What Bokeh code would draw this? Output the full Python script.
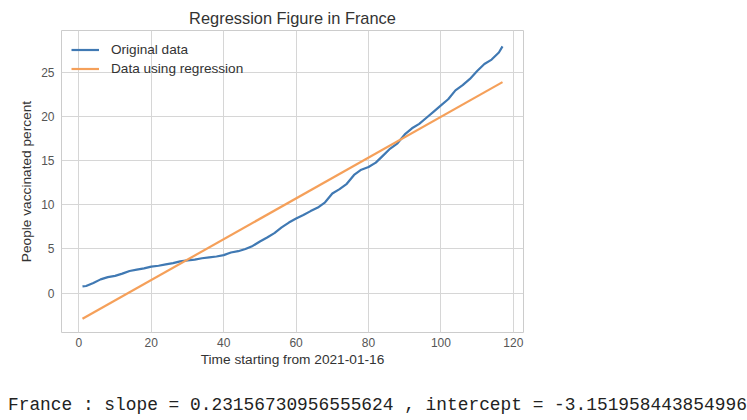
from bokeh.plotting import figure
from bokeh.models import FixedTicker, Legend, LegendItem, Div
from bokeh.layouts import column
from bokeh.embed import file_html
from bokeh.resources import INLINE

# Original data (days since 2021-01-16, people vaccinated percent)
days = [1, 2, 4, 6, 8, 10, 12, 14, 16, 18, 20, 22, 24, 26, 28, 30, 32, 34, 36, 38,
        40, 42, 44, 46, 48, 50, 52, 54, 56, 58, 60, 62, 64, 66, 68, 70, 72, 74, 76, 78,
        80, 82, 84, 86, 88, 90, 92, 94, 96, 98, 100, 102, 104, 106, 108, 110, 112, 114, 116, 117]
vaccinated = [0.75, 0.8, 1.15, 1.55, 1.8, 1.95, 2.2, 2.5, 2.65, 2.8,
              3.0, 3.1, 3.25, 3.4, 3.6, 3.7, 3.8, 3.95, 4.05, 4.15,
              4.3, 4.6, 4.75, 5.0, 5.35, 5.85, 6.3, 6.8, 7.45, 8.0,
              8.45, 8.85, 9.3, 9.7, 10.3, 11.3, 11.8, 12.4, 13.4, 14.0,
              14.3, 14.8, 15.6, 16.4, 17.0, 18.0, 18.7, 19.2, 19.9, 20.6,
              21.3, 22.0, 23.0, 23.6, 24.3, 25.2, 26.0, 26.5, 27.3, 28.0]

# Regression line end points
reg_days = [1, 117]
reg_values = [-2.92, 23.94]

x_ticks = [0, 20, 40, 60, 80, 100, 120]
y_ticks = [0, 5, 10, 15, 20, 25]

title_text = "Regression Figure in France"
x_label = "Time starting from 2021-01-16"
y_label = "People vaccinated percent"
legend_labels = ["Original data", "Data using regression"]
footer_text = "France : slope = 0.23156730956555624 , intercept = -3.151958443854996"

FONT = "Liberation Sans"

p = figure(width=739, height=372, output_backend="svg", toolbar_location=None,
           x_range=(-4.8, 122.8), y_range=(-4.48, 29.8),
           min_border_left=61, min_border_right=216, min_border_top=30, min_border_bottom=40,
           title=title_text)

p.title.align = "center"
p.title.text_font = FONT
p.title.text_font_size = "16.4px"
p.title.text_font_style = "normal"
p.title.text_color = "#333333"
p.title.standoff = 8

p.background_fill_color = "white"
p.border_fill_color = "white"
p.outline_line_color = "#cccccc"
p.outline_line_width = 1

for ax in (p.xaxis[0], p.yaxis[0]):
    ax.axis_line_color = None
    ax.major_tick_line_color = None
    ax.minor_tick_line_color = None
    ax.major_tick_out = 0
    ax.major_tick_in = 0
    ax.minor_tick_out = 0
    ax.minor_tick_in = 0
    ax.major_label_text_font = FONT
    ax.major_label_text_font_size = "12px"
    ax.major_label_text_color = "#555555"
    ax.axis_label_text_font = FONT
    ax.axis_label_text_font_size = "13.7px"
    ax.axis_label_text_font_style = "normal"
    ax.axis_label_text_color = "#333333"

p.xaxis.ticker = FixedTicker(ticks=x_ticks)
p.yaxis.ticker = FixedTicker(ticks=y_ticks)
p.xaxis.axis_label = x_label
p.yaxis.axis_label = y_label
p.xaxis.major_label_standoff = 5
p.yaxis.major_label_standoff = 7
p.xaxis.axis_label_standoff = 2
p.yaxis.axis_label_standoff = 4

p.xgrid.grid_line_color = "#d6d6d6"
p.ygrid.grid_line_color = "#d6d6d6"
p.xgrid.ticker = FixedTicker(ticks=x_ticks)
p.ygrid.ticker = FixedTicker(ticks=y_ticks)

r1 = p.line(days, vaccinated, line_color="#4079b3", line_width=2.2)
r2 = p.line(reg_days, reg_values, line_color="#f5a05a", line_width=2.2)

legend = Legend(items=[LegendItem(label=legend_labels[0], renderers=[r1]),
                       LegendItem(label=legend_labels[1], renderers=[r2])],
                location="top_left")
legend.border_line_color = None
legend.background_fill_alpha = 0
legend.label_text_font = FONT
legend.label_text_font_size = "13.6px"
legend.label_text_color = "#333333"
legend.glyph_width = 28
legend.label_standoff = 12
legend.spacing = 0
legend.label_height = 19
legend.glyph_height = 19
legend.margin = 10
legend.padding = 4
p.add_layout(legend)

footer = Div(text=footer_text, width=739, height=38,
             styles={"font-family": "Liberation Mono", "font-size": "17.85px",
                     "color": "#222222", "white-space": "pre",
                     "margin-top": "21px", "padding-left": "3px"})

layout = column(p, footer, spacing=0)

open("out.html", "w").write(file_html(layout, INLINE))
